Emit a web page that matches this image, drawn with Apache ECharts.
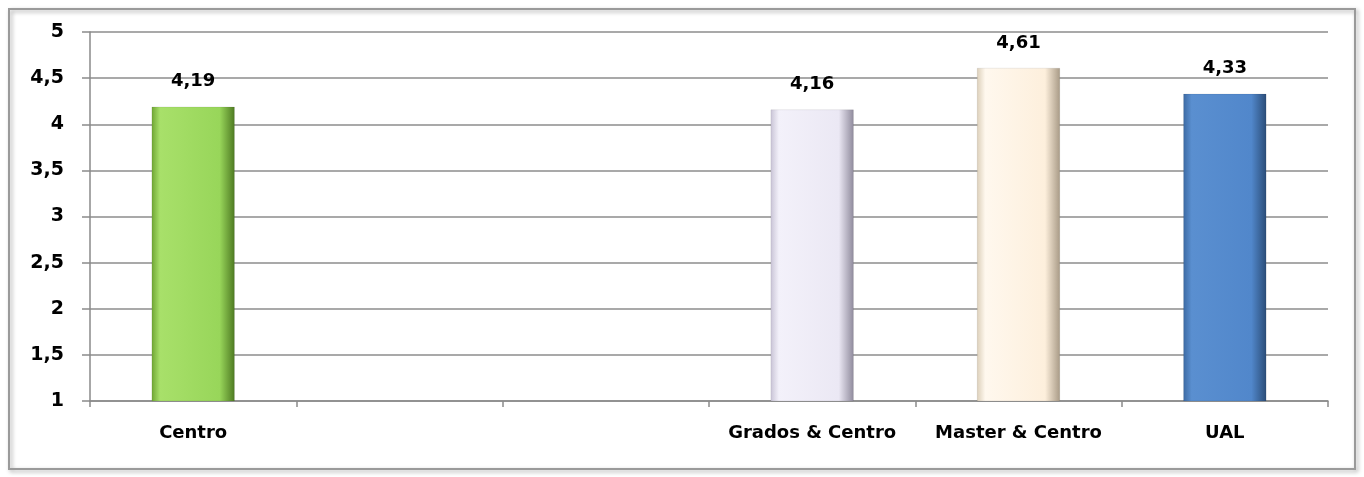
<!DOCTYPE html>
<html>
<head>
<meta charset="utf-8">
<script src="https://cdn.jsdelivr.net/npm/echarts@6/dist/echarts.min.js"></script>
<style>
html,body{margin:0;padding:0;background:#fff;}
#c{width:1364px;height:477px;}
</style>
</head>
<body>
<div id="c"></div>
<script>
var categories = ["Centro", "", "", "Grados & Centro", "Master & Centro", "UAL"];
var values = [4.19, 0, 0, 4.16, 4.61, 4.33];
var yTicks = { min: 1, max: 5, interval: 0.5 };
var barColors = [
  ["#6fa534", "#a8e06a", "#98d65a", "#4e7a22"],
  ["#c9cf8a", "#e0e6a0", "#d6dc95", "#a9ae70"],
  ["#e8b8b8", "#f4cccc", "#efc4c4", "#c79a9a"],
  ["#c9c4d6", "#f3f1fa", "#ebe8f4", "#8f8a9c"],
  ["#dccfb9", "#fff8ee", "#fdefdc", "#a89a86"],
  ["#3c6aa3", "#5a8fd0", "#5187cb", "#2b4d78"]
];

function grad(c) {
  return new echarts.graphic.LinearGradient(0, 0, 1, 0, [
    { offset: 0, color: c[0] },
    { offset: 0.1, color: c[1] },
    { offset: 0.82, color: c[2] },
    { offset: 1, color: c[3] }
  ]);
}

var chart = echarts.init(document.getElementById('c'));
var font = 'DejaVu Sans';
chart.setOption({
  backgroundColor: '#ffffff',
  animation: false,
  graphic: [{
    type: 'rect',
    shape: { x: 9, y: 9, width: 1346, height: 460 },
    style: { fill: 'rgba(0,0,0,0)', stroke: '#9a9a9a', lineWidth: 2, shadowBlur: 4, shadowColor: 'rgba(0,0,0,0.35)', shadowOffsetX: 2, shadowOffsetY: 2 },
    z: -1
  }],
  grid: { left: 90, right: 36, top: 32, bottom: 76 },
  xAxis: {
    type: 'category',
    data: categories,
    axisLine: { lineStyle: { color: '#8a8a8a', width: 1.5 } },
    axisTick: { show: true, alignWithLabel: false, length: 6, lineStyle: { color: '#8a8a8a', width: 1.5 } },
    axisLabel: { color: '#000', fontFamily: font, fontWeight: 'bold', fontSize: 18, margin: 23, interval: 0 }
  },
  yAxis: {
    type: 'value',
    min: yTicks.min, max: yTicks.max, interval: yTicks.interval,
    axisLine: { show: true, lineStyle: { color: '#8a8a8a', width: 1.5 } },
    axisTick: { show: true, length: 8, lineStyle: { color: '#8a8a8a', width: 1.5 } },
    splitLine: { lineStyle: { color: '#8c8c8c', width: 1.5 } },
    axisLabel: {
      color: '#000', fontFamily: font, fontWeight: 'bold', fontSize: 19, margin: 26,
      formatter: function (v) { return String(v).replace('.', ','); }
    }
  },
  series: [{
    type: 'bar',
    barWidth: 83,
    data: values.map(function (v, i) {
      return { value: v, itemStyle: { color: grad(barColors[i]), borderColor: 'rgba(0,0,0,0.15)', borderWidth: 0.5 } };
    }),
    label: {
      show: true, position: 'top', distance: 16,
      color: '#000', fontFamily: font, fontWeight: 'bold', fontSize: 18,
      formatter: function (p) { return p.value >= 1 ? p.value.toFixed(2).replace('.', ',') : ''; }
    }
  }]
});
</script>
</body>
</html>
